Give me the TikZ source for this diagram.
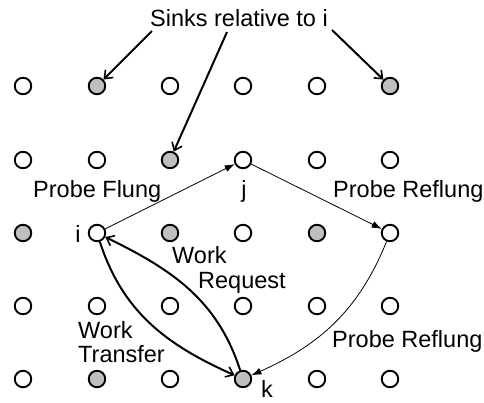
\documentclass[tikz,border=0pt]{standalone}
\usepackage{fontspec}
\setmainfont{Liberation Sans}
\usetikzlibrary{arrows.meta}
\begin{document}
\begin{tikzpicture}[x=1pt,y=-1pt,
  dot/.style={circle,draw,line width=1.9pt,minimum size=16.5pt,inner sep=0pt,fill=white},
  c1r0/.style={fill=black!25},
  c5r0/.style={fill=black!25},
  c2r1/.style={fill=black!25},
  c0r2/.style={fill=black!25},
  c2r2/.style={fill=black!25},
  c4r2/.style={fill=black!25},
  c1r4/.style={fill=black!25},
  c3r4/.style={fill=black!25},
  lbl/.style={font=\fontsize{23.5}{28}\selectfont,inner sep=0pt},
  thinarr/.style={line width=0.8pt,-{Latex[length=10pt,width=7pt]}},
  thickarr/.style={line width=2pt,-{Straight Barb[length=7pt,width=11pt,line width=1.6pt]}}
]
\useasboundingbox (0,0) rectangle (484,402);
\foreach \c/\x in {0/23,1/97,2/170,3/243,4/317,5/390}
  \foreach \r/\y in {0/86,1/160,2/233,3/306,4/379}
    \node[dot,c\c r\r/.try] (n\c\r) at (\x,\y) {};
% labels
\node[lbl,anchor=base west] (title) at (150,26) {Sinks relative to i};
\node[lbl,anchor=base west] (pf) at (33,197) {Probe Flung};
\node[lbl,anchor=base] (lj) at (244,197) {j};
\node[lbl,anchor=base west] (pr1) at (333,197) {Probe Reflung};
\node[lbl,anchor=base] (li) at (78,242) {i};
\node[lbl,anchor=base west] (wr1) at (172,263) {Work};
\node[lbl,anchor=base west] (wr2) at (198,288) {Request};
\node[lbl,anchor=base west] (wt1) at (78,338) {Work};
\node[lbl,anchor=base west] (wt2) at (78,362) {Transfer};
\node[lbl,anchor=base west] (pr2) at (332,347) {Probe Reflung};
\node[lbl,anchor=base west] (lk) at (261,397) {k};
% sink arrows
\coordinate (s1) at (152,31);
\coordinate (s2) at (227,32);
\coordinate (s3) at (332,30);
\draw[thickarr] (s1) -- (n10);
\draw[thickarr] (s2) -- (n21);
\draw[thickarr] (s3) -- (n50);
% probe arrows
\draw[thinarr] (n12) -- (n31);
\draw[thinarr] (n31) -- (n52);
\draw[thinarr] (n52) to[out=-112,in=24] (n34);
% work arrows
\draw[thickarr] (n34) to[out=108,in=-26] (n12);
\draw[thickarr] (n12) to[out=-72,in=156] (n34);
\end{tikzpicture}
\end{document}
